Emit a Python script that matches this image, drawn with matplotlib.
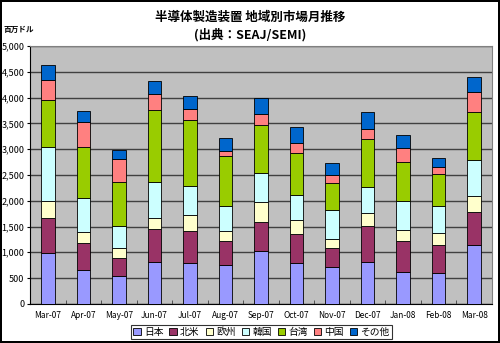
import numpy as np
import matplotlib
matplotlib.use('Agg')
import matplotlib.pyplot as plt
from matplotlib.ticker import FuncFormatter, MultipleLocator

plt.rcParams['font.family'] = ['Noto Sans CJK JP', 'DejaVu Sans']

# 月
months = ['Mar-07', 'Apr-07', 'May-07', 'Jun-07', 'Jul-07', 'Aug-07', 'Sep-07',
          'Oct-07', 'Nov-07', 'Dec-07', 'Jan-08', 'Feb-08', 'Mar-08']

# 地域別 (百万ドル)
japan = [990, 660, 535, 808, 796, 757, 1029, 796, 718, 815, 613, 594, 1146]
north_america = [674, 517, 350, 650, 623, 467, 551, 564, 356, 701, 597, 552, 629]
europe = [325, 214, 203, 214, 311, 187, 395, 259, 181, 245, 214, 234, 325]
korea = [1045, 666, 414, 687, 551, 480, 553, 500, 559, 514, 565, 511, 685]
taiwan = [914, 988, 862, 1401, 1284, 974, 934, 810, 539, 914, 759, 623, 940]
china = [390, 487, 436, 317, 208, 103, 214, 194, 136, 195, 266, 136, 389]
other = [297, 208, 181, 247, 253, 241, 311, 300, 234, 337, 253, 176, 286]

series = [
    ('日本', japan, '#9999FF'),
    ('北米', north_america, '#993366'),
    ('欧州', europe, '#FFFFCC'),
    ('韓国', korea, '#CCFFFF'),
    ('台湾', taiwan, '#99CC00'),
    ('中国', china, '#FF8080'),
    ('その他', other, '#0066CC'),
]

fig = plt.figure(figsize=(5.0, 3.43), dpi=100)
fig.patch.set_facecolor('white')
fig.patch.set_edgecolor('black')
fig.patch.set_linewidth(1.5)

ax = fig.add_axes([0.06, 0.114, 0.924, 0.752])
ax.set_facecolor('#C0C0C0')

x = np.arange(len(months))
bottom = np.zeros(len(months))
for name, vals, col in series:
    ax.bar(x, vals, width=0.38, bottom=bottom, color=col, edgecolor='black',
           linewidth=0.6, label=name, zorder=3)
    bottom += np.array(vals)

ax.set_ylim(0, 5000)
ax.set_xlim(-0.5, len(months) - 0.5)
ax.yaxis.set_major_locator(MultipleLocator(500))
ax.yaxis.set_major_formatter(FuncFormatter(lambda v, p: f'{int(v):,}'))
ax.grid(axis='y', color='#404040', linewidth=1.0, zorder=1)
ax.set_axisbelow(True)

ax.set_xticks(x)
ax.set_xticklabels(months)
ax.set_xticks(np.arange(len(months) + 1) - 0.5, minor=True)
ax.tick_params(axis='x', which='major', length=0, labelsize=6, pad=5)
ax.tick_params(axis='x', which='minor', length=3, direction='in', color='#404040')
ax.tick_params(axis='y', length=2, labelsize=6.5, pad=2)

for s in ['top', 'right']:
    ax.spines[s].set_color('#808080')
    ax.spines[s].set_linewidth(0.8)
for s in ['left', 'bottom']:
    ax.spines[s].set_color('black')
    ax.spines[s].set_linewidth(0.8)

fig.text(0.5, 0.95, '半導体製造装置 地域別市場月推移', ha='center', va='center',
         fontsize=9, fontweight='bold')
fig.text(0.5, 0.90, '(出典：SEAJ/SEMI)', ha='center', va='center',
         fontsize=9, fontweight='bold')
fig.text(0.008, 0.915, '百万ドル', ha='left', va='center', fontsize=5.5,
         fontweight='bold')

leg = fig.legend(loc='center', bbox_to_anchor=(0.523, 0.032), ncol=7,
                 fontsize=7, frameon=True, fancybox=False, edgecolor='black',
                 handlelength=0.8, handleheight=0.8, handletextpad=0.3,
                 columnspacing=0.6, borderpad=0.25, borderaxespad=0)
leg.get_frame().set_linewidth(0.8)

plt.savefig('out.png', dpi=100)
